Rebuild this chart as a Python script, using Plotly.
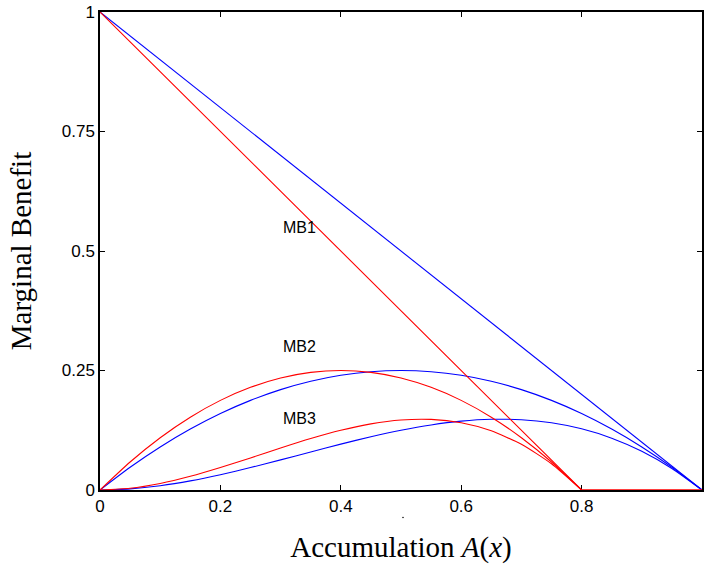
import plotly.graph_objects as go

# ---- data ----
x_grid = [0, 0.05, 0.1, 0.15, 0.2, 0.25, 0.3, 0.35, 0.4, 0.45, 0.5,
          0.55, 0.6, 0.65, 0.7, 0.75, 0.8, 0.85, 0.9, 0.95, 1.0]

mb1_blue_x = [0, 1.0]
mb1_blue_y = [1.0, 0]
mb1_red_x = [0, 0.8, 1.0]
mb1_red_y = [1.0, 0, 0]

mb2_blue_y = [0, .0475, .09, .1275, .16, .1875, .21, .2275, .24, .2475, .25,
              .2475, .24, .2275, .21, .1875, .16, .1275, .09, .0475, 0]
mb2_red_y = [0, .0586, .1094, .1523, .1875, .2148, .2344, .2461, .25, .2461, .2344,
             .2148, .1875, .1523, .1094, .0586, 0, 0, 0, 0, 0]

mb3_blue_y = [0, .0024, .009, .0191, .032, .0469, .063, .0796, .096, .1114, .125,
              .1361, .144, .1479, .147, .1406, .128, .1084, .081, .0451, 0]
mb3_red_y = [0, .0037, .0137, .0286, .0469, .0671, .0879, .1077, .125, .1384, .1465,
             .1477, .1406, .1238, .0957, .0549, 0, 0, 0, 0, 0]

labels = ["MB1", "MB2", "MB3"]
label_x = [0.3, 0.3, 0.3]
label_y = [0.55, 0.30, 0.15]

x_ticks = [0, 0.2, 0.4, 0.6, 0.8]
x_ticktext = ["0", "0.2", "0.4", "0.6", "0.8"]
y_ticks = [0, 0.25, 0.5, 0.75, 1]
y_ticktext = ["0", "0.25", "0.5", "0.75", "1"]

BLUE = "#0000ff"
RED = "#ff0000"

fig = go.Figure()

def add(x, y, color, smooth=False):
    fig.add_trace(go.Scatter(
        x=x, y=y, mode="lines",
        line=dict(color=color, width=1.1, shape="spline" if smooth else "linear",
                  smoothing=0.6),
        showlegend=False, hoverinfo="skip", cliponaxis=False))

add(mb1_blue_x, mb1_blue_y, BLUE)
add(x_grid, mb2_blue_y, BLUE, True)
add(x_grid, mb3_blue_y, BLUE, True)
add(mb1_red_x, mb1_red_y, RED)
add(x_grid[:17], mb2_red_y[:17], RED, True)
add(x_grid[:17], mb3_red_y[:17], RED, True)
add(x_grid[16:], mb2_red_y[16:], RED)

for t, lx, ly in zip(labels, label_x, label_y):
    fig.add_annotation(x=lx, y=ly, text=t, showarrow=False, xanchor="left",
                       yanchor="middle",
                       font=dict(family="Liberation Sans, Arial, sans-serif",
                                 size=16, color="black"))

# small stray mark below the axis in the reference
fig.add_shape(type="line", xref="paper", yref="paper",
              x0=0.5017, x1=0.505, y0=-0.0575, y1=-0.0575,
              line=dict(color="#555555", width=1.2))

axis_common = dict(
    showgrid=False, zeroline=False, showline=True, linecolor="black",
    linewidth=1.5, mirror="ticks", ticks="inside", ticklen=5, tickwidth=1,
    tickcolor="black", layer="below traces",
    tickfont=dict(family="Liberation Sans, Arial, sans-serif", size=17,
                  color="black"),
)

title_font = dict(family="Liberation Serif, Times New Roman, serif",
                  size=29, color="black")

fig.update_xaxes(range=[0, 1], tickvals=x_ticks, ticktext=x_ticktext,
                 title=dict(text="Accumulation <i>A</i>(<i>x</i>)",
                            font=title_font, standoff=22),
                 **axis_common)
fig.update_yaxes(range=[0, 1], tickvals=y_ticks, ticktext=y_ticktext,
                 title=dict(text="Marginal Benefit",
                            font=title_font, standoff=22),
                 **axis_common)

fig.update_layout(
    width=704, height=571,
    margin=dict(l=100, r=0, t=12, b=81),
    paper_bgcolor="white", plot_bgcolor="white",
)

fig.write_html("out.html")
